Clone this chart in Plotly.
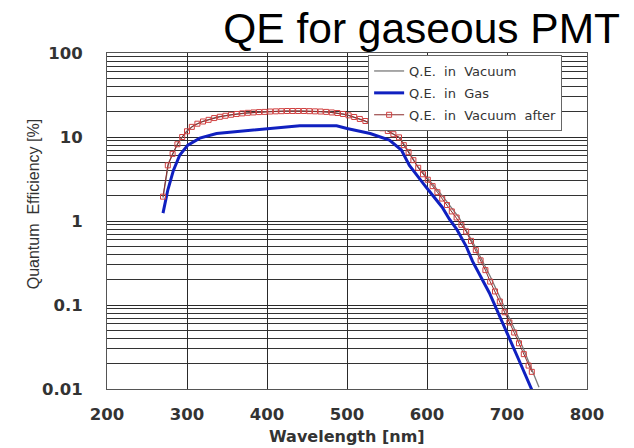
import plotly.graph_objects as go

# Wavelength [nm] and QE [%]
wl_vac = [270, 277, 289, 299, 308, 320, 337, 358, 379, 400, 441, 479, 500, 520, 545, 566, 578, 588, 600, 619, 640, 660, 680, 700, 720, 740]
qe_vac = [1.9, 4.9, 8.6, 11.6, 13.6, 15.4, 17.2, 18.6, 19.4, 20.0, 20.5, 19.8, 18.3, 15.8, 12.7, 9.8, 6.5, 4.5, 3.3, 2.0, 1.1, 0.5, 0.21, 0.082, 0.031, 0.0105]

wl_gas = [270, 276, 283, 291, 301, 316, 337, 370, 400, 441, 487, 500, 529, 553, 568, 578, 600, 619, 628, 637, 649, 657, 678, 699, 715, 731]
qe_gas = [1.24, 2.34, 4.0, 6.1, 8.0, 9.7, 11.0, 11.8, 12.7, 13.6, 13.6, 12.6, 11.0, 9.2, 7.0, 4.6, 2.45, 1.46, 1.05, 0.8, 0.5, 0.33, 0.139, 0.050, 0.022, 0.0098]

wl_after = [270, 276, 282, 288, 294, 300, 306, 313, 320, 327, 334, 341, 348, 355, 362, 369, 376, 383, 390, 397,
            404, 411, 418, 425, 432, 439, 446, 453, 460, 467, 474, 481, 488, 495, 502, 509, 516, 523, 530, 537,
            544, 551, 558, 565, 571, 577, 583, 589, 595, 601, 607, 613, 619, 625, 631, 637, 643, 649, 655, 661,
            667, 673, 679, 685, 691, 697, 703, 709, 715, 721, 727, 731]
qe_after = [1.95, 4.6, 6.3, 8.2, 10.0, 11.7, 13.2, 14.4, 15.3, 16.0, 16.8, 17.4, 17.9, 18.4, 18.8, 19.1, 19.4, 19.6, 19.8, 19.9,
            20.1, 20.2, 20.3, 20.4, 20.4, 20.4, 20.4, 20.3, 20.2, 20.1, 19.9, 19.6, 19.3, 18.8, 18.1, 17.3, 16.4, 15.5, 14.5, 13.6,
            12.7, 11.8, 10.8, 9.9, 8.0, 6.6, 5.3, 4.3, 3.6, 3.1, 2.6, 2.2, 1.85, 1.55, 1.3, 1.1, 0.9, 0.75, 0.58, 0.45,
            0.34, 0.26, 0.19, 0.145, 0.11, 0.082, 0.062, 0.047, 0.035, 0.026, 0.019, 0.016]

x_ticks = [200, 300, 400, 500, 600, 700, 800]
y_ticks = [0.01, 0.1, 1, 10, 100]
y_ticktext = ["0.01", "0.1", "1", "10", "100"]

NB = "\u00a0"
fig = go.Figure()
fig.add_trace(go.Scatter(x=wl_vac, y=qe_vac, mode="lines", name=f"Q.E.{NB}{NB}in{NB}{NB}Vacuum", legendgroup="a",
                         line=dict(color="#7a7a7a", width=1.3)))
fig.add_trace(go.Scatter(x=wl_gas, y=qe_gas, mode="lines", name=f"Q.E.{NB}{NB}in{NB}{NB}Gas", legendgroup="b",
                         line=dict(color="#1020c0", width=3)))
fig.add_trace(go.Scatter(x=wl_after, y=qe_after, mode="lines+markers",
                         name=f"Q.E.{NB}{NB}in{NB}{NB}Vacuum{NB}{NB}after", legendgroup="c",
                         line=dict(color="#8a2a2a", width=1),
                         marker=dict(symbol="square-open", size=5, color="#d04040", line=dict(width=1))))

sans = "Liberation Sans, Arial, sans-serif"
wide = "DejaVu Sans, sans-serif"
fig.update_layout(
    width=634, height=448,
    margin=dict(l=107, r=47, t=53, b=59),
    paper_bgcolor="white", plot_bgcolor="white",
    title=dict(text="QE for gaseous PMT", x=0.978, xanchor="right", y=0.937, yanchor="middle",
               font=dict(family=sans, size=42.5, color="black")),
    showlegend=True,
    legend=dict(x=0.544, y=0.994, xanchor="left", yanchor="top", bgcolor="white",
                bordercolor="#666666", borderwidth=1,
                font=dict(family=wide, size=13, color="#333333"),
                tracegroupgap=2, itemwidth=30),
    xaxis=dict(range=[200, 800], tickvals=x_ticks, showgrid=True, gridcolor="#2a2a2a", gridwidth=1,
               showline=True, linecolor="#555555", mirror=True, ticks="", zeroline=False,
               ticklabelstandoff=10,
               tickfont=dict(family=wide, size=16.5, color="#333333", weight="bold")),
    yaxis=dict(type="log", range=[-2, 2], tickvals=y_ticks, ticktext=y_ticktext,
               showgrid=True, gridcolor="#2a2a2a", gridwidth=1,
               minor=dict(dtick="D1", showgrid=True, gridcolor="#333333", gridwidth=1, ticks=""),
               showline=True, linecolor="#555555", mirror=True, ticks="", zeroline=False,
               tickfont=dict(family=wide, size=16.5, color="#333333", weight="bold"),
               ticklabelstandoff=20),
    annotations=[
        dict(text="<b>Wavelength [nm]</b>", xref="paper", yref="paper", x=0.5, y=-0.14,
             xanchor="center", yanchor="middle", showarrow=False,
             font=dict(family=wide, size=16, color="#333333")),
        dict(text="Quantum  Efficiency [%]", xref="paper", yref="paper", x=-0.154, y=0.55,
             xanchor="center", yanchor="middle", textangle=-90, showarrow=False,
             font=dict(family=sans, size=16, color="#333333")),
    ],
)

fig.write_html("out.html")
